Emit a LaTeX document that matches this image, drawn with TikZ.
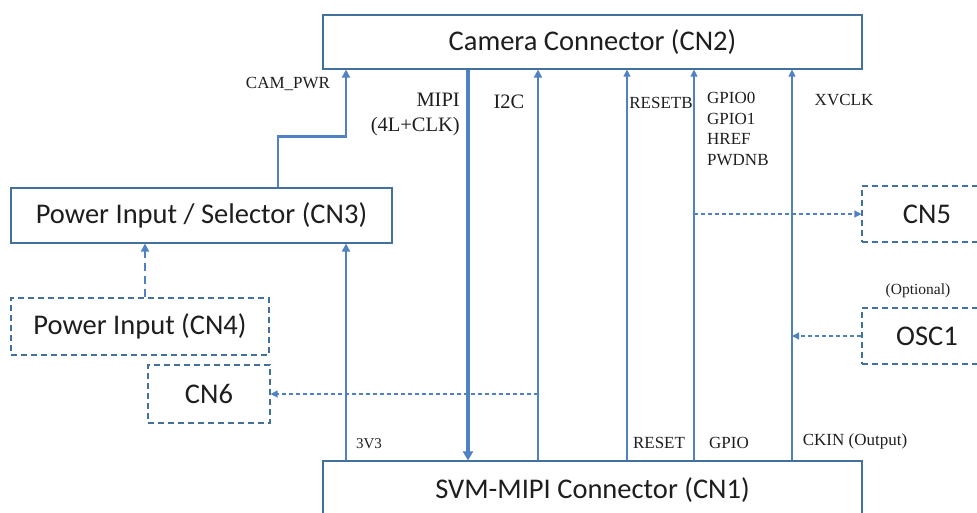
\documentclass[tikz,border=0pt]{standalone}
\usepackage{fontspec}
\setmainfont{Liberation Serif}
\newfontfamily\boxfont{Carlito}
\usetikzlibrary{arrows.meta}
\definecolor{linec}{RGB}{79,129,195}
\definecolor{boxc}{RGB}{65,113,156}
\definecolor{txt}{RGB}{30,30,30}
\tikzset{
  blk/.style={draw=boxc, line width=1.2pt, fill=white, inner sep=0pt, text=txt, font=\boxfont\fontsize{28.5}{32}\selectfont},
  dblk/.style={blk, dashed, dash pattern=on 6pt off 4pt},
  tip/.tip={Triangle[width=8pt,length=8pt]},
  smalltip/.tip={Triangle[width=7pt,length=7pt]},
  thinln/.style={draw=linec, line width=1.3pt},
  medln/.style={draw=linec, line width=2.5pt},
  bigln/.style={draw=linec, line width=4.2pt},
  dashln/.style={draw=linec, line width=1.3pt, dash pattern=on 4pt off 3pt},
  lbl/.style={inner sep=0pt, text=txt, font=\fontsize{17}{20.5}\selectfont},
  biglbl/.style={inner sep=0pt, text=txt, font=\fontsize{20.5}{25}\selectfont},
}
\begin{document}
\begin{tikzpicture}[x=1pt,y=-1pt]
\useasboundingbox (0,0) rectangle (977,512);
% column coordinates
\coordinate (cPwr) at (278,0);
\coordinate (c3v3) at (346,0);
\coordinate (cMipi) at (468,0);
\coordinate (cI2c) at (538,0);
\coordinate (cRst) at (627,0);
\coordinate (cGpio) at (694,0);
\coordinate (cClk) at (792,0);
\coordinate (cIn) at (145,0);
% boxes
\node[blk, minimum width=539, minimum height=54] (cam) at (592.5,42) {Camera Connector (CN2)};
\node[blk, minimum width=381, minimum height=55] (cn3) at (201.5,215.5) {Power Input / Selector (CN3)};
\node[dblk, minimum width=258, minimum height=57] (cn4) at (140,326.5) {Power Input (CN4)};
\node[dblk, minimum width=122, minimum height=58] (cn6) at (209,394) {CN6};
\node[dblk, minimum width=130, minimum height=56] (cn5) at (927,214) {CN5\hspace{20pt}};
\node[dblk, minimum width=130, minimum height=56] (osc) at (927,336) {OSC1\hspace{16pt}};
\node[blk, minimum width=539, minimum height=58] (svm) at (592.5,490) {SVM-MIPI Connector (CN1)};
% connectors
\draw[medln,-tip] (cn3.north -| cPwr) -- ++(0,-51) -| (cam.south -| c3v3);
\draw[medln,-tip] (svm.north -| c3v3) -- (cn3.south -| c3v3);
\draw[bigln,-{Triangle[width=10pt,length=9pt]}] (cam.south -| cMipi) -- (svm.north -| cMipi);
\draw[medln,-tip] (svm.north -| cI2c) -- (cam.south -| cI2c);
\draw[thinln,-smalltip] (svm.north -| cRst) -- (cam.south -| cRst);
\draw[thinln,-smalltip] (svm.north -| cGpio) -- (cam.south -| cGpio);
\draw[thinln,-smalltip] (svm.north -| cClk) -- (cam.south -| cClk);
\draw[dashln,-smalltip] (cGpio |- cn5.west) -- (cn5.west);
\draw[dashln,-smalltip] (osc.west) -- (osc.west -| cClk);
\draw[dashln,-smalltip] (cI2c |- cn6.east) -- (cn6.east);
\draw[medln,dash pattern=on 8pt off 5pt,-tip] (cn4.north -| cIn) -- (cn3.south -| cIn);
% labels
\node[lbl] (lpwr) at (288,84) {CAM\_PWR};
\node[biglbl, align=right, anchor=east] (lmipi) at (460,114) {MIPI\\(4L+CLK)};
\node[biglbl] (li2c) at (509,102) {I2C};
\node[lbl] (lrstb) at (661,103) {RESETB};
\node[lbl, align=left, anchor=north west] (lgpio) at (707,92) {GPIO0\\GPIO1\\HREF\\PWDNB};
\node[lbl] (lxv) at (844,100) {XVCLK};
\node[lbl, font=\fontsize{15.5}{18}\selectfont] (lopt) at (918,291) {(Optional)};
\node[lbl, font=\fontsize{15}{18}\selectfont] (l3v3) at (369,444) {3V3};
\node[lbl] (lrst) at (659,443) {RESET};
\node[lbl] (lgp) at (729,443) {GPIO};
\node[lbl] (lck) at (855,441) {CKIN (Output)};
\end{tikzpicture}
\end{document}
